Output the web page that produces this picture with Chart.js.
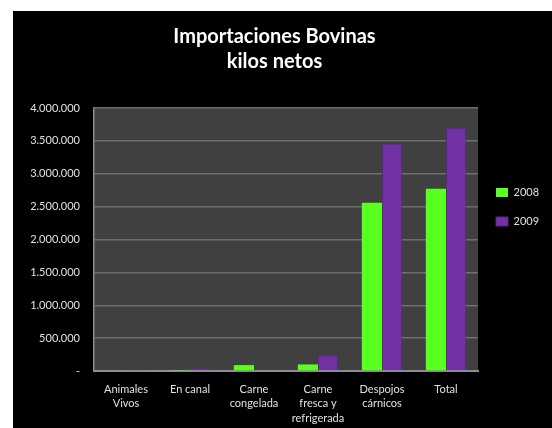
<!DOCTYPE html>
<html>
<head>
<meta charset="utf-8">
<script src="https://cdn.jsdelivr.net/npm/chart.js@4.4.1/dist/chart.umd.min.js"></script>
<style>
  body { margin: 0; background: #fff; }
  #fondo { position: absolute; left: 13px; top: 11px; width: 539px; height: 417px; background: #000; }
  #caja { position: absolute; left: 0; top: 0; width: 539px; height: 417px; }
</style>
</head>
<body>
<div id="fondo"><div id="caja"><canvas id="grafico"></canvas></div></div>
<script>
const categorias = [
    ['Animales', 'Vivos'],
    ['En canal'],
    ['Carne', 'congelada'],
    ['Carne', 'fresca y', 'refrigerada'],
    ['Despojos', 'cárnicos'],
    ['Total']
];
const kilos2008 = [0, 5000, 90000, 100000, 2560000, 2770000];
const kilos2009 = [20000, 40000, 0, 240000, 3460000, 3700000];
const etiquetasY = ['-', '500.000', '1.000.000', '1.500.000', '2.000.000', '2.500.000', '3.000.000', '3.500.000', '4.000.000'];

const fuente = 'Lato, "Open Sans", sans-serif';

// fondo gris del area del grafico
const fondoArea = {
    id: 'fondoArea',
    beforeDraw(chart) {
        const a = chart.chartArea;
        const ctx = chart.ctx;
        ctx.save();
        ctx.fillStyle = '#404040';
        ctx.fillRect(a.left, a.top, a.right - a.left, a.bottom - a.top);
        ctx.restore();
    }
};

// mover la leyenda a su sitio (y darle sitio para el texto)
const moverLeyenda = {
    id: 'moverLeyenda',
    afterLayout(chart) {
        const l = chart.legend;
        const h = l.height;
        l.left = 465; l.width = 74; l.right = l.left + l.width;
        l.top = 158; l.bottom = l.top + h;
    }
};

new Chart(document.getElementById('grafico'), {
    type: 'bar',
    data: {
        labels: categorias,
        datasets: [{
            label: '2008',
            data: kilos2008,
            backgroundColor: '#59ff21',
            borderWidth: 0
        }, {
            label: '2009',
            data: kilos2009,
            backgroundColor: '#7332a3',
            borderColor: '#5a2785',
            borderWidth: 1
        }]
    },
    options: {
        responsive: true,
        maintainAspectRatio: false,
        animation: false,
        devicePixelRatio: 1,
        datasets: {
            bar: { categoryPercentage: 0.63, barPercentage: 1 }
        },
        layout: { padding: { left: 0, right: 16, top: 0, bottom: 0 } },
        scales: {
            x: {
                grid: { display: false, drawTicks: false },
                border: { color: '#8c8c8c', width: 2 },
                ticks: {
                    color: '#e0e0e0',
                    padding: 11,
                    maxRotation: 0,
                    autoSkip: false,
                    font: { family: fuente, size: 11, lineHeight: 1.32 }
                },
                afterFit(scale) { scale.height = 57; }
            },
            y: {
                min: 0,
                max: 4000000,
                grid: { color: '#6e6e6e', lineWidth: 1.5, drawTicks: false },
                border: { color: '#8c8c8c', width: 1.5 },
                ticks: {
                    stepSize: 500000,
                    color: '#e0e0e0',
                    padding: 14,
                    font: { family: fuente, size: 11 },
                    callback: (v, i) => etiquetasY[i]
                },
                afterFit(scale) { scale.width = 81; }
            }
        },
        plugins: {
            title: {
                display: true,
                text: ['Importaciones Bovinas', 'kilos netos'],
                color: '#ffffff',
                font: { family: fuente, size: 20, weight: 'bold', lineHeight: 1.25 },
                padding: { top: 13, bottom: 34 }
            },
            legend: {
                position: 'right',
                align: 'start',
                maxWidth: 58,
                labels: {
                    color: '#e0e0e0',
                    boxWidth: 12,
                    boxHeight: 9,
                    padding: 18,
                    font: { family: fuente, size: 11 }
                }
            },
            tooltip: { enabled: false }
        }
    },
    plugins: [fondoArea, moverLeyenda]
});
</script>
</body>
</html>
